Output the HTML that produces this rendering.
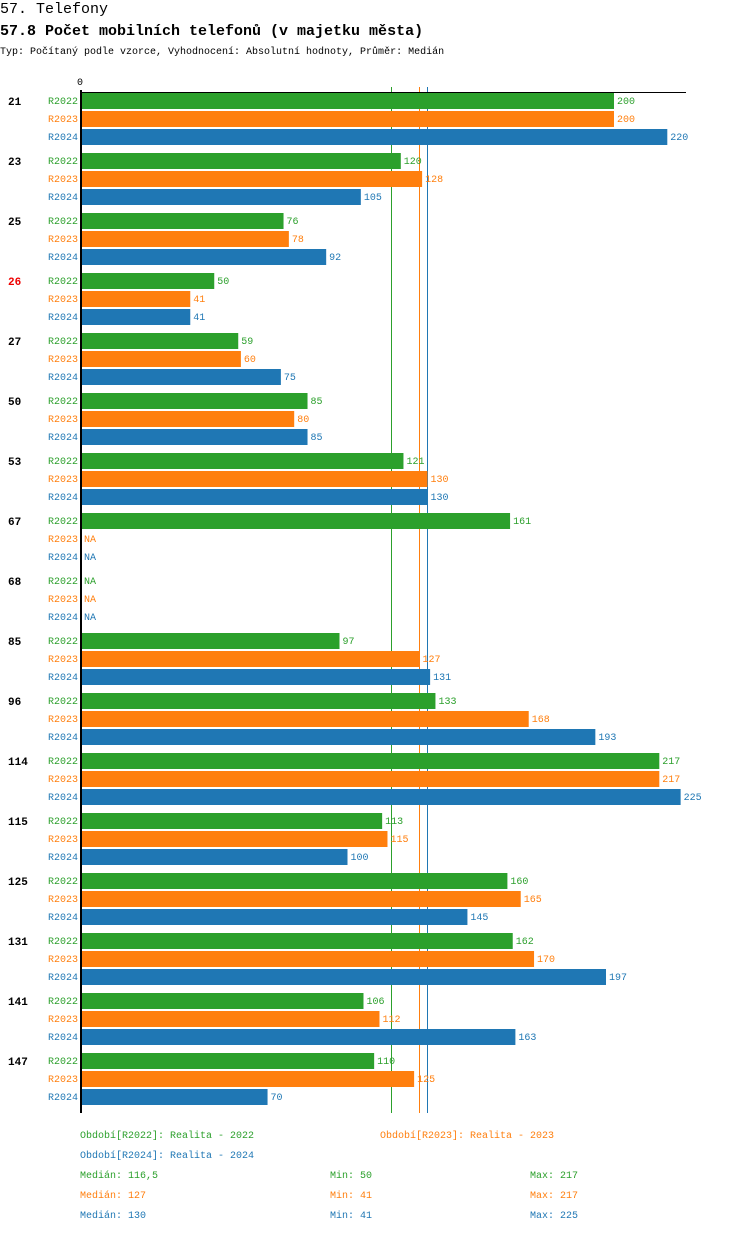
<!DOCTYPE html>
<html><head><meta charset="utf-8"><style>
body{margin:0;background:#fff;width:750px;height:1232px;overflow:hidden;font-family:"Liberation Mono",monospace;}
svg text{font-family:"Liberation Mono",monospace;}
</style></head><body>
<svg id="c" width="750" height="1232">
<text x="0" y="13" font-size="15">57. Telefony</text>
<text x="0" y="35" font-size="15" font-weight="bold">57.8 Počet mobilních telefonů (v majetku města)</text>
<text x="0" y="54" font-size="10">Typ: Počítaný podle vzorce, Vyhodnocení: Absolutní hodnoty, Průměr: Medián</text>
</svg>
<script>
const categories=["21","23","25","26","27","50","53","67","68","85","96","114","115","125","131","141","147"];
const highlighted=["26"];
const seriesNames=["R2022","R2023","R2024"];
const colors=["#2ca02c","#ff7f0e","#1f77b4"];
const r2022=[200,120,76,50,59,85,121,161,null,97,133,217,113,160,162,106,110];
const r2023=[200,128,78,41,60,80,130,null,null,127,168,217,115,165,170,112,125];
const r2024=[220,105,92,41,75,85,130,null,null,131,193,225,100,145,197,163,70];
const medians=[116.5,127,130];
const medianLabels=["116,5","127","130"];
const mins=[50,41,41];
const maxs=[217,217,225];
const series=[r2022,r2023,r2024];
const svg=document.getElementById('c');
const NS='http://www.w3.org/2000/svg';
const x0=81,scale=2.665;
const xs=v=>x0+v*scale;
const ys=(g,s)=>93+g*60+s*18;
function mk(tag,attrs){const e=document.createElementNS(NS,tag);for(const k in attrs)e.setAttribute(k,attrs[k]);svg.appendChild(e);return e;}
medians.forEach((m,i)=>{
 const px=Math.round(xs(m))+0.5;
 const l=mk('line',{x1:px,x2:px,y1:87,y2:1113,stroke:colors[i],'stroke-width':1});
 
 
});
categories.forEach((c,g)=>{
 const t=mk('text',{x:8,y:ys(g,0)+12,'font-size':11,'font-weight':'bold',fill:highlighted.includes(c)?'#e00':'#000'});
 t.textContent=c;
 
 
 series.forEach((arr,s)=>{
  const y=ys(g,s);
  const l=mk('text',{x:78,y:y+11,'font-size':10,'text-anchor':'end',fill:colors[s]});
  l.textContent=seriesNames[s];
  
  
  const v=arr[g];
  if(v!=null){
   const r=mk('rect',{x:x0,y:y,width:xs(v)-x0,height:16,fill:colors[s]});
   
   
  }
  const vt=mk('text',{x:(v!=null?xs(v):x0)+3,y:y+11,'font-size':10,fill:colors[s]});
  vt.textContent=v!=null?v:'NA';
  
  
 });
});
const ax=mk('line',{x1:80,x2:686,y1:92.5,y2:92.5,stroke:'#000','stroke-width':1});


const ay=mk('line',{x1:81,x2:81,y1:90,y2:1113,stroke:'#000','stroke-width':2});


const z=mk('text',{x:80,y:85,'font-size':10,'text-anchor':'middle'});
z.textContent='0';


const leg=[[80,1138,0,'Období[R2022]: Realita - 2022'],[380,1138,1,'Období[R2023]: Realita - 2023'],[80,1158,2,'Období[R2024]: Realita - 2024']];
leg.forEach(([x,y,i,t])=>{const e=mk('text',{x:x,y:y,'font-size':10,fill:colors[i]});e.textContent=t;
 
 });
for(let i=0;i<3;i++){
 const y=1178+i*20;
 const a=mk('text',{x:80,y:y,'font-size':10,fill:colors[i]});a.textContent='Medián: '+medianLabels[i];
 
 
 const b=mk('text',{x:330,y:y,'font-size':10,fill:colors[i]});b.textContent='Min: '+mins[i];
 
 
 const c=mk('text',{x:530,y:y,'font-size':10,fill:colors[i]});c.textContent='Max: '+maxs[i];
 
 
}
</script>
</body></html>
